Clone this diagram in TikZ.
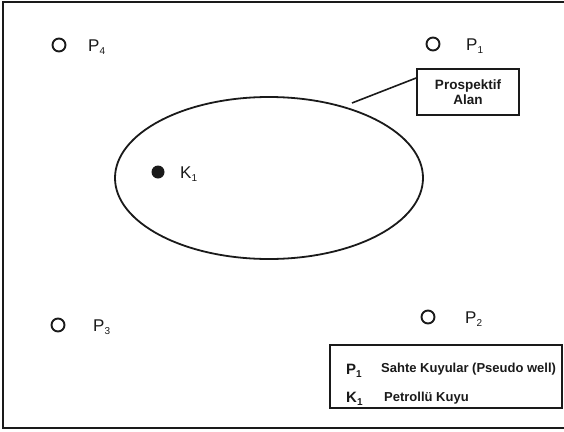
\documentclass[tikz,border=0pt]{standalone}
\usepackage{fontspec}
\setmainfont{Liberation Sans}
\usetikzlibrary{shapes.geometric}
\definecolor{ink}{HTML}{1A1A1A}
\tikzset{
  well/.style={circle, draw=ink, line width=1.9pt, minimum size=13pt, inner sep=0pt},
  oil/.style={circle, fill=ink, minimum size=13pt, inner sep=0pt},
  lbl/.style={anchor=base west, inner sep=0pt, text=ink, font=\fontsize{17}{19}\selectfont},
  leg/.style={anchor=base west, inner sep=0pt, text=ink, font=\bfseries\fontsize{13}{15}\selectfont},
  legsym/.style={anchor=base west, inner sep=0pt, text=ink, font=\bfseries\fontsize{15}{17}\selectfont},
  boxline/.style={draw=ink, line width=1.7pt},
}
\newcommand{\subs}[1]{\raisebox{-3pt}{\fontsize{10}{11}\selectfont #1}}
\begin{document}
\begin{tikzpicture}[x=1pt,y=-1pt]
\useasboundingbox (0,0) rectangle (564,431);
\fill[white] (0,0) rectangle (564,431);
% frame
\draw[ink, line width=2pt] (570,2) -- (3,2) -- (3,428) -- (570,428);
% wells
\node[well] (p4) at (59,45) {};
\node[lbl] (p4l) at (88,51) {P\subs{4}};
\node[well] (p1) at (433,44) {};
\node[lbl] (p1l) at (466,50) {P\subs{1}};
\node[well] (p3) at (58,325) {};
\node[lbl] (p3l) at (93,331) {P\subs{3}};
\node[well] (p2) at (428,317) {};
\node[lbl] (p2l) at (465,323) {P\subs{2}};
% prospective area
\node[draw=ink, line width=1.8pt, ellipse, minimum width=308pt, minimum height=162pt, inner sep=0pt] (area) at (269,178) {};
\node[oil] (k1) at (158,172) {};
\node[lbl] (k1l) at (180,178) {K\subs{1}};
% callout box
\node[boxline, minimum width=102pt, minimum height=46pt, inner sep=0pt, align=center,
      text=ink, font=\bfseries\fontsize{13.5}{15}\selectfont] (box) at (468,92) {Prospektif\\Alan};
\coordinate (cA) at (352,103);
\draw[ink, line width=1.6pt] (cA) -- ([yshift=14pt]box.west);
% legend
\node[boxline, minimum width=232pt, minimum height=63pt, inner sep=0pt, anchor=north west] (legend) at (329,344) {};
\node[legsym] (lp) at (346,374) {P\subs{1}};
\node[leg] (lpt) at (381,372) {Sahte Kuyular (Pseudo well)};
\node[legsym] (lk) at (346,402) {K\subs{1}};
\node[leg] (lkt) at (384,401) {Petrollü Kuyu};
\end{tikzpicture}
\end{document}
